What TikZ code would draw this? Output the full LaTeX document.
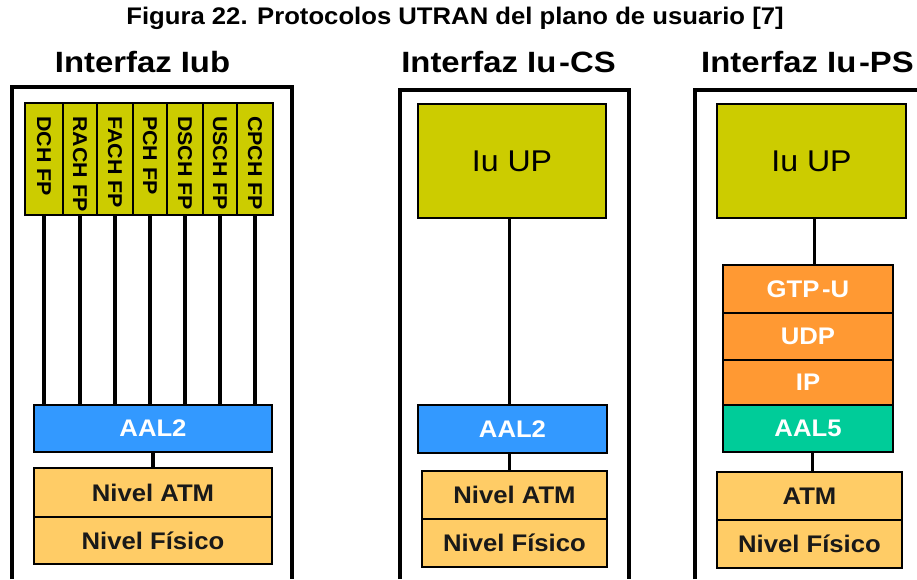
\documentclass[tikz,border=0pt]{standalone}
\usepackage{fontspec}
\setmainfont{Liberation Sans}
\newfontfamily\titlefont[FakeStretch=1.07]{Liberation Sans}
\newfontfamily\headfont[FakeStretch=1.12]{Liberation Sans}
\newfontfamily\labfont[FakeStretch=1.07]{Liberation Sans}
\definecolor{cOlive}{HTML}{CCCC00}
\definecolor{cBlue}{HTML}{3399FF}
\definecolor{cOrange}{HTML}{FF9933}
\definecolor{cGreen}{HTML}{00CC99}
\definecolor{cLight}{HTML}{FFCC66}
% \pbox{name}{x1}{y1}{x2}{y2}{style}{text}
\newcommand\pbox[7]{%
  \node[box, #6, minimum width={(#4-#2)*0.75pt}, minimum height={(#5-#3)*0.75pt}]
    (#1) at ({(#2+#4)/2},{(#3+#5)/2}) {#7};}
\begin{document}
\begin{tikzpicture}[x=0.75pt,y=-0.75pt,
  box/.style={draw=black, line width=1.5pt, inner sep=0pt, anchor=center},
  outer/.style={draw=black, line width=2.3pt},
  conn/.style={draw=black, line width=2.3pt},
  btxt/.style={font=\labfont\bfseries\fontsize{18}{20}\selectfont, text=black!90},
  wtxt/.style={font=\labfont\bfseries\fontsize{18}{20}\selectfont, text=white},
  fptxt/.style={font=\labfont\bfseries\fontsize{15}{16}\selectfont, rotate=-90, anchor=west, inner sep=0pt},
  iutxt/.style={font=\labfont\fontsize{22.5}{24}\selectfont},
  head/.style={font=\headfont\bfseries\fontsize{22}{24}\selectfont, inner sep=0pt}]
\useasboundingbox (0,0) rectangle (917,579);

% title and headings
\node[font=\titlefont\bfseries\fontsize{18}{20}\selectfont, inner sep=0pt] (title) at (455,18) {Figura 22. Protocolos UTRAN del plano de usuario [7]};
\node[head] (hA) at (142.5,62) {Interfaz Iub};
\node[head] (hB) at (508.5,62) {Interfaz Iu\kern2pt-CS};
\node[head] (hC) at (807.5,62) {Interfaz Iu\kern2pt-PS};

% outer frames
\draw[outer] (12,579) -- (12,87) -- (292,87) -- (292,579);
\draw[outer] (400,579) -- (400,90) -- (629,90) -- (629,579);
\draw[outer] (695,579) -- (695,90) -- (917,90);

% ---------- Iub ----------
\pbox{aalA}{34}{405}{272}{452}{fill=cBlue, wtxt}{AAL2}
\pbox{atmA}{34}{468}{272}{517}{fill=cLight, btxt}{Nivel ATM}
\pbox{fisA}{34}{517}{272}{564}{fill=cLight, btxt}{Nivel Físico}
\foreach \i/\a/\b/\t in {1/25/63/DCH FP, 2/63/97/RACH FP, 3/97/133/FACH FP, 4/133/167/PCH FP, 5/167/203/DSCH FP, 6/203/237/USCH FP, 7/237/273/CPCH FP}{
  \pbox{fp\i}{\a}{103}{\b}{215}{fill=cOlive}{}
  \node[fptxt] (fpt\i) at ([yshift=-10.5pt]fp\i.north) {\t};
  \draw[conn] (fp\i.south) -- (fp\i.south |- aalA.north);
}
\draw[conn] (aalA.south) -- (atmA.north);

% ---------- Iu-CS ----------
\pbox{iuB}{418}{104}{606}{218}{fill=cOlive, iutxt}{Iu UP}
\pbox{aalB}{418}{405}{607}{453}{fill=cBlue, wtxt}{AAL2}
\pbox{atmB}{422}{471}{607}{519}{fill=cLight, btxt}{Nivel ATM}
\pbox{fisB}{422}{519}{607}{567}{fill=cLight, btxt}{Nivel Físico}
\draw[conn] ([xshift=-2pt]iuB.south) -- ([xshift=-2pt]iuB.south |- aalB.north);
\draw[conn] ([xshift=-2pt]aalB.south) -- ([xshift=-2pt]aalB.south |- atmB.north);

% ---------- Iu-PS ----------
\pbox{iuC}{717}{104}{906}{218}{fill=cOlive, iutxt}{Iu UP}
\pbox{gtp}{723}{265}{893}{313}{fill=cOrange, wtxt}{GTP\kern2pt-U}
\pbox{udp}{723}{313}{893}{360}{fill=cOrange, wtxt}{UDP}
\pbox{ip}{723}{360}{893}{405}{fill=cOrange, wtxt}{IP}
\pbox{aal5}{723}{405}{893}{452}{fill=cGreen, wtxt}{AAL5}
\pbox{atmC}{717}{472}{902}{520}{fill=cLight, btxt}{ATM}
\pbox{fisC}{717}{520}{902}{568}{fill=cLight, btxt}{Nivel Físico}
\draw[conn] ([xshift=2pt]iuC.south) -- ([xshift=2pt]iuC.south |- gtp.north);
\draw[conn] ([xshift=3.5pt]aal5.south) -- ([xshift=3.5pt]aal5.south |- atmC.north);
\end{tikzpicture}
\end{document}
